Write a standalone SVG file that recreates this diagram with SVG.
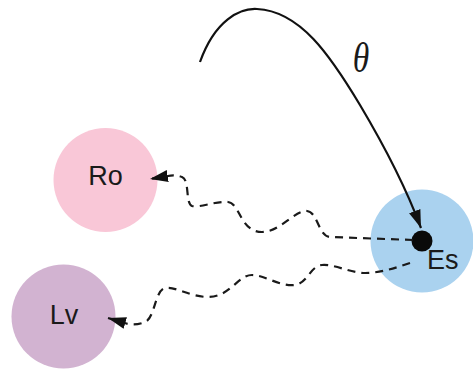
<svg xmlns="http://www.w3.org/2000/svg" width="473" height="369" viewBox="0 0 473 369">
<style>
.lbl{font-family:"Liberation Sans",Arial,sans-serif;font-size:27px;fill:#1a1a1a}
.wave{fill:none;stroke:#1a1a1a;stroke-width:2.2;stroke-dasharray:8 6}
.arc{fill:none;stroke:#111;stroke-width:2.2}
</style>
<defs>
<marker id="ah" markerUnits="userSpaceOnUse" markerWidth="20" markerHeight="14" refX="18" refY="6" orient="auto">
<path d="M0,0 L18,6 L0,12 Z" fill="#111"/>
</marker>
</defs>
<rect width="473" height="369" fill="#fff"/>
<g id="node-ro"><circle cx="105.5" cy="180" r="52" fill="#f9c7d7"/><text class="lbl" x="105.5" y="185" text-anchor="middle">Ro</text></g>
<g id="node-lv"><circle cx="63.5" cy="316.5" r="52" fill="#d2b3d1"/><text class="lbl" x="64" y="324" text-anchor="middle">Lv</text></g>
<g id="node-es"><circle cx="422" cy="241" r="51.5" fill="#aad2ef"/><circle cx="422" cy="241" r="10.5" fill="#0a0a0a"/><text class="lbl" x="427" y="269">Es</text></g>
<g id="connectors">
<path class="arc" d="M200,62 C215,20 240,8 257,9 C300,11 330,55 360,105 C385,147 405,185 421,228" marker-end="url(#ah)"/>
<text x="361" y="72" text-anchor="middle" font-family="Liberation Serif,serif" font-style="italic" font-size="42" fill="#1a1a1a" transform="translate(361 0) scale(0.8 1) translate(-361 0)">θ</text>
<path class="wave" d="M413,240 L330,237 C318,236 318,212 307,211 C295,210 280,232 262,232 C240,232 240,203 228,202 C215,201 200,208 192,206 C185,203 190,180 182,177 C177,175 172,175 168,176 L150,179" marker-end="url(#ah)"/>
<path class="wave" d="M410,263 C395,268 380,273 365,273 C350,273 335,264 322,265 C310,266 308,283 295,285 C280,287 265,275 252,275 C238,275 230,297 208,297 C190,297 175,286 165,288 C155,290 155,318 145,322 C138,325 130,325 125,323 L108,318" marker-end="url(#ah)"/>
</g>
</svg>
